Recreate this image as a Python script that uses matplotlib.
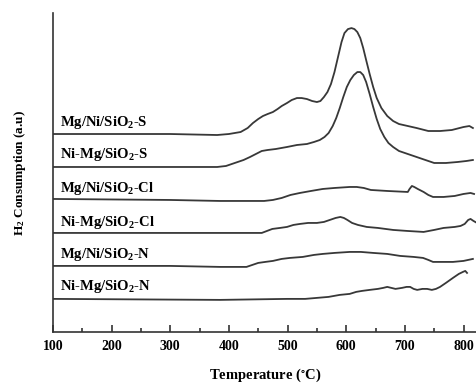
import matplotlib
matplotlib.use("Agg")
import matplotlib.pyplot as plt

plt.rcParams['font.family'] = ['Liberation Serif', 'DejaVu Serif']
plt.rcParams['font.weight'] = 'bold'
plt.rcParams['mathtext.fontset'] = 'custom'
plt.rcParams['mathtext.rm'] = 'Liberation Serif:bold'
plt.rcParams['mathtext.it'] = 'Liberation Serif:bold'
plt.rcParams['mathtext.bf'] = 'Liberation Serif:bold'
plt.rcParams['mathtext.default'] = 'regular'

# TPR profiles (temperature in C, signal in a.u., already offset)
t_mgni_s = [100, 300, 380, 400, 420, 432, 441, 450, 458, 466, 475, 483, 490, 499, 507,
            516, 524, 533, 542, 550, 556, 562, 568, 574, 580, 586, 592, 597, 603, 609,
            614, 619, 624, 629, 634, 640, 646, 652, 660, 670, 680, 690, 705, 720, 740,
            760, 780, 800, 810, 816]
h_mgni_s = [198, 198, 197, 198, 200, 204, 209, 213, 216, 218, 220, 223, 226, 229, 232,
            234, 234, 233, 231, 230, 231, 235, 240, 248, 260, 275, 290, 299, 303, 304,
            303, 300, 294, 284, 272, 258, 245, 234, 224, 216, 211, 208, 206, 204, 201,
            201, 202, 205, 206, 204]

t_nimg_s = [100, 380, 395, 405, 415, 425, 436, 446, 456, 466, 480, 499, 516, 533, 545,
            555, 563, 570, 577, 583, 589, 595, 601, 607, 613, 619, 624, 629, 634, 640,
            646, 652, 658, 665, 672, 680, 690, 705, 720, 735, 750, 770, 790, 805, 816]
h_nimg_s = [165, 165, 166, 168, 170, 172, 175, 178, 181, 182, 183, 185, 187, 188, 190,
            192, 195, 199, 206, 214, 224, 235, 245, 252, 257, 260, 260, 257, 250, 238,
            225, 213, 203, 195, 189, 185, 181, 178, 175, 172, 169, 169, 170, 171, 172]

t_mgni_cl = [100, 300, 385, 460, 475, 490, 505, 521, 540, 560, 580, 606, 618, 630, 642,
             670, 705, 708, 712, 716, 722, 732, 740, 748, 766, 785, 800, 812, 818]
h_mgni_cl = [133, 132, 131, 131, 132, 134, 137, 139, 141, 143, 144, 145, 145, 144, 142,
             141, 140, 143, 146, 145, 143, 140, 137, 135, 135, 136, 138, 139, 138]

t_nimg_cl = [100, 400, 456, 465, 474, 487, 499, 510, 521, 535, 550, 562, 572, 582, 590,
             596, 602, 610, 620, 635, 654, 680, 704, 732, 750, 766, 785, 795, 802, 808,
             812, 817, 823]
h_nimg_cl = [99, 99, 99, 101, 103, 104, 105, 107, 108, 109, 109, 110, 112, 114, 115,
             114, 112, 109, 107, 105, 104, 102, 101, 100, 102, 104, 105, 106, 108, 112,
             113, 111, 109]

t_mgni_n = [100, 300, 385, 430, 440, 450, 462, 475, 490, 504, 526, 545, 560, 580, 606,
            625, 646, 670, 692, 715, 731, 740, 748, 765, 782, 800, 816]
h_mgni_n = [66, 66, 65, 65, 67, 69, 70, 71, 73, 74, 75, 77, 78, 79, 80,
            80, 79, 78, 76, 75, 74, 72, 70, 70, 70, 71, 73]

t_nimg_n = [100, 385, 499, 530, 550, 570, 589, 606, 617, 627, 640, 654, 663, 670, 677,
            684, 695, 703, 709, 715, 721, 730, 738, 746, 753, 760, 770, 782, 792, 799,
            803, 806]
h_nimg_n = [33, 32, 33, 33, 34, 35, 37, 38, 40, 41, 42, 43, 44, 45, 44,
            43, 44, 45, 45, 43, 42, 43, 43, 42, 43, 45, 49, 54, 58, 60,
            61, 59]

labels = [r'Mg/Ni/SiO$_2$-S', r'Ni-Mg/SiO$_2$-S', r'Mg/Ni/SiO$_2$-Cl',
          r'Ni-Mg/SiO$_2$-Cl', r'Mg/Ni/SiO$_2$-N', r'Ni-Mg/SiO$_2$-N']
label_y = [210, 177, 143, 109, 77, 45]

curves = [(t_mgni_s, h_mgni_s), (t_nimg_s, h_nimg_s), (t_mgni_cl, h_mgni_cl),
          (t_nimg_cl, h_nimg_cl), (t_mgni_n, h_mgni_n), (t_nimg_n, h_nimg_n)]

fig = plt.figure(figsize=(4.77, 3.85), dpi=100)
ax = fig.add_axes([0.111, 0.138, 0.889, 0.828])

for (t, h), lab, ly in zip(curves, labels, label_y):
    ax.plot(t, h, color='#383838', lw=1.3)
    ax.text(112, ly, lab, fontsize=10.5, fontweight='bold', va='center', ha='left')

ax.set_xlim(100, 823)
ax.set_ylim(0, 319)
ax.set_xticks([100, 200, 300, 400, 500, 600, 700, 800])
ax.set_xticks(range(150, 823, 100), minor=True)
ax.set_yticks([])
ax.tick_params(axis='x', direction='in', length=5, width=1.2, labelsize=10, pad=6, color='#333333')
ax.tick_params(axis='x', which='minor', direction='in', length=3, width=1.2, color='#333333')
for lbl in ax.get_xticklabels():
    lbl.set_fontweight('bold')
ax.spines['top'].set_visible(False)
ax.spines['right'].set_visible(False)
ax.spines['left'].set_color('#333333')
ax.spines['bottom'].set_color('#333333')
ax.spines['left'].set_linewidth(1.2)
ax.spines['bottom'].set_linewidth(1.2)

ax.set_xlabel(r'Temperature ($^{\circ}$C)', fontsize=10.5, fontweight='bold', labelpad=10)
ax.set_ylabel(r'H$_2$ Consumption (a.u)', fontsize=9.5, fontweight='bold', labelpad=18)

fig.savefig('out.png', dpi=100)
